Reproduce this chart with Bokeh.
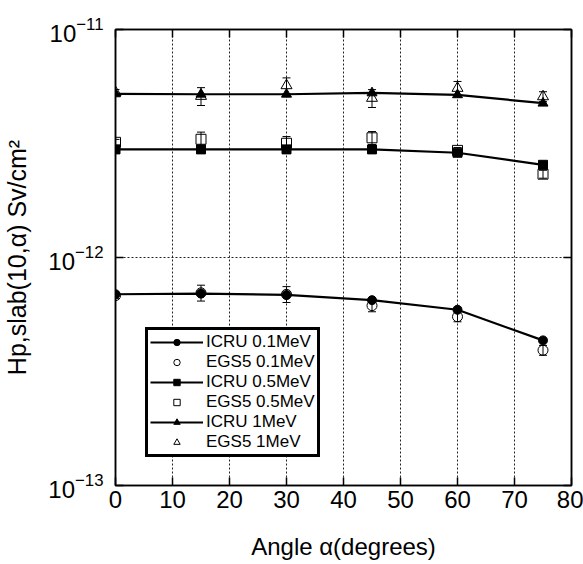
from bokeh.plotting import figure
from bokeh.models import (FixedTicker, LogAxis, LinearAxis, Whisker, TeeHead,
                          ColumnDataSource, Legend, LegendItem, Range1d)
from bokeh.embed import file_html
from bokeh.resources import INLINE

# ---- data ----
angles = [0, 15, 30, 45, 60, 75]

icru_01 = [6.9e-13, 6.95e-13, 6.85e-13, 6.5e-13, 5.9e-13, 4.33e-13]
egs5_01 = [6.8e-13, 7.0e-13, 6.9e-13, 6.15e-13, 5.5e-13, 3.92e-13]
egs5_01_err = [0.03, 0.08, 0.08, 0.06, 0.05, 0.05]

icru_05 = [2.98e-12, 2.98e-12, 2.98e-12, 2.98e-12, 2.88e-12, 2.55e-12]
egs5_05 = [3.2e-12, 3.3e-12, 3.17e-12, 3.35e-12, 2.95e-12, 2.32e-12]
egs5_05_err = [0.03, 0.075, 0.07, 0.065, 0.03, 0.04]

icru_1 = [5.22e-12, 5.2e-12, 5.2e-12, 5.27e-12, 5.17e-12, 4.75e-12]
egs5_1 = [5.3e-12, 5.1e-12, 5.68e-12, 5.0e-12, 5.53e-12, 5.08e-12]
egs5_1_err = [0.03, 0.09, 0.08, 0.09, 0.07, 0.05]

x_ticks = [0, 10, 20, 30, 40, 50, 60, 70, 80]
y_ticks = [1e-13, 1e-12, 1e-11]

FONT = "Liberation Sans"

p = figure(width=583, height=564, y_axis_type="log",
           x_range=Range1d(0, 80), y_range=Range1d(1e-13, 1e-11),
           output_backend="svg", toolbar_location=None,
           min_border_left=115, min_border_right=12,
           min_border_top=29, min_border_bottom=79)
p.background_fill_color = "white"
p.border_fill_color = "white"
p.outline_line_color = "black"
p.outline_line_width = 1.5

# grids
for g in (p.xgrid, p.ygrid):
    g.grid_line_color = "#222222"
    g.grid_line_dash = "2 2"
    g.grid_line_width = 1
p.xgrid.ticker = FixedTicker(ticks=x_ticks)
p.ygrid.ticker = FixedTicker(ticks=y_ticks)

# main axes
xa = p.xaxis[0]
ya = p.yaxis[0]
xa.ticker = FixedTicker(ticks=x_ticks)
ya.ticker = FixedTicker(ticks=y_ticks)
for ax in (xa, ya):
    ax.major_tick_in = 8
    ax.major_tick_out = 0
    ax.minor_tick_line_color = None
    ax.axis_line_color = "black"
    ax.axis_line_width = 1.5
    ax.major_tick_line_width = 1.5
    ax.major_label_text_font = FONT
    ax.major_label_text_font_size = "24px"
    ax.major_label_text_color = "black"
    ax.axis_label_text_font = FONT
    ax.axis_label_text_font_style = "normal"
    ax.axis_label_text_color = "black"
xa.axis_label = "Angle α(degrees)"
ya.axis_label = "Hp,slab(10,α) Sv/cm²"
xa.axis_label_text_font_size = "24px"
ya.axis_label_text_font_size = "25px"
xa.major_label_standoff = 5
xa.axis_label_standoff = 22
ya.major_label_standoff = 12
ya.axis_label_standoff = 14

# mirrored axes (ticks only)
ra = LogAxis(ticker=FixedTicker(ticks=y_ticks))
ta = LinearAxis(ticker=FixedTicker(ticks=x_ticks))
for ax in (ra, ta):
    ax.major_tick_in = 8
    ax.major_tick_out = 0
    ax.minor_tick_line_color = None
    ax.major_label_text_font_size = "1px"
    ax.major_label_text_color = None
    ax.major_label_standoff = 0
    ax.axis_line_width = 1.5
    ax.major_tick_line_width = 1.5
p.add_layout(ra, "right")
p.add_layout(ta, "above")

items = []
series = [
    ("0.1MeV", icru_01, egs5_01, egs5_01_err, "circle", 9, 10),
    ("0.5MeV", icru_05, egs5_05, egs5_05_err, "square", 9, 10),
    ("1MeV", icru_1, egs5_1, egs5_1_err, "triangle", 10, 11),
]
for name, icru, egs, err, mk, s_fill, s_open in series:
    up = [v * (1 + e) for v, e in zip(egs, err)]
    lo = [v * (1 - e) for v, e in zip(egs, err)]
    src = ColumnDataSource(dict(x=angles, icru=icru, egs=egs, up=up, lo=lo))
    r_open = p.scatter("x", "egs", source=src, marker=mk, size=s_open,
                       fill_color=None, line_color="black", line_width=1)
    w = Whisker(base="x", upper="up", lower="lo", source=src,
                line_color="black", line_width=1,
                upper_head=TeeHead(size=8, line_color="black", line_width=1),
                lower_head=TeeHead(size=8, line_color="black", line_width=1))
    p.add_layout(w)
    r_line = p.line("x", "icru", source=src, line_color="black", line_width=2.2)
    r_fill = p.scatter("x", "icru", source=src, marker=mk, size=s_fill,
                       fill_color="black", line_color="black")
    items.append(LegendItem(label="ICRU " + name, renderers=[r_line, r_fill]))
    items.append(LegendItem(label="EGS5 " + name, renderers=[r_open]))

leg = Legend(items=items, location=(30, 28))
leg.label_text_font = FONT
leg.label_text_font_size = "17px"
leg.label_text_line_height = 1.0
leg.label_text_color = "black"
leg.label_standoff = 3
leg.label_height = 16
leg.glyph_height = 16
leg.glyph_width = 53
leg.spacing = 0
leg.padding = 2
leg.margin = 0
leg.border_line_color = "black"
leg.border_line_alpha = 1.0
leg.border_line_width = 3
leg.background_fill_color = "white"
leg.background_fill_alpha = 1
p.add_layout(leg)

open("out.html", "w").write(file_html(p, INLINE))
